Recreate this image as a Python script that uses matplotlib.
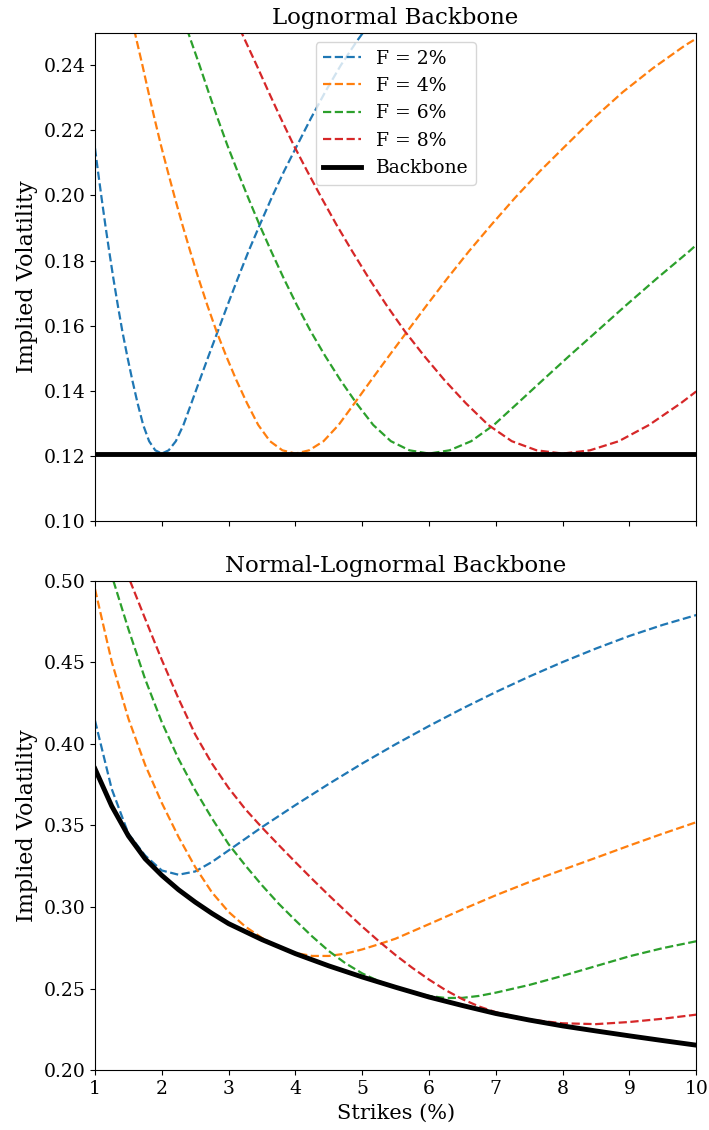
import numpy as np
import matplotlib
matplotlib.use("Agg")
import matplotlib.pyplot as plt

plt.rcParams['font.family'] = 'DejaVu Serif'

# ---- lognormal backbone (top panel) ----
ln_k2 = [1.0, 1.044, 1.098, 1.154, 1.213, 1.275, 1.341, 1.409, 1.482, 1.558, 1.637, 1.721, 1.810,
         1.902, 2.0, 2.103, 2.210, 2.324, 2.443, 2.568, 2.700, 2.838, 2.984, 3.137, 3.297, 3.467,
         3.644, 3.831, 4.028, 4.234, 4.451, 4.679, 4.919, 5.171]
ln_v2 = [0.2145, 0.2075, 0.1993, 0.1910, 0.1828, 0.1745, 0.1663, 0.1583, 0.1507, 0.1433, 0.1362,
         0.1295, 0.1245, 0.1217, 0.1207, 0.1217, 0.1245, 0.1295, 0.1362, 0.1433, 0.1507, 0.1583,
         0.1663, 0.1745, 0.1828, 0.1910, 0.1993, 0.2075, 0.2155, 0.2238, 0.2320, 0.2400, 0.2474,
         0.2545]

ln_k4 = [1.547, 1.626, 1.710, 1.797, 1.889, 1.986, 2.088, 2.195, 2.308, 2.426, 2.550, 2.681, 2.818,
         2.963, 3.115, 3.275, 3.443, 3.619, 3.805, 4.0, 4.205, 4.421, 4.647, 4.886, 5.136, 5.400,
         5.676, 5.967, 6.273, 6.595, 6.933, 7.288, 7.662, 8.055, 8.468, 8.902, 9.358, 9.838, 10.0]
ln_v4 = [0.2545, 0.2474, 0.2400, 0.2320, 0.2238, 0.2155, 0.2075, 0.1993, 0.1910, 0.1828, 0.1745,
         0.1663, 0.1583, 0.1507, 0.1433, 0.1362, 0.1295, 0.1245, 0.1217, 0.1207, 0.1217, 0.1245,
         0.1295, 0.1362, 0.1433, 0.1507, 0.1583, 0.1663, 0.1745, 0.1828, 0.1910, 0.1993, 0.2075,
         0.2155, 0.2238, 0.2318, 0.2392, 0.2462, 0.2482]

ln_k6 = [2.320, 2.439, 2.565, 2.696, 2.834, 2.980, 3.132, 3.293, 3.462, 3.639, 3.826, 4.022, 4.228,
         4.445, 4.673, 4.912, 5.164, 5.429, 5.707, 6.0, 6.308, 6.631, 6.971, 7.328, 7.704, 8.099,
         8.515, 8.951, 9.410, 9.892, 10.0]
ln_v6 = [0.2545, 0.2474, 0.2400, 0.2320, 0.2238, 0.2155, 0.2075, 0.1993, 0.1910, 0.1828, 0.1745,
         0.1663, 0.1583, 0.1507, 0.1433, 0.1362, 0.1295, 0.1245, 0.1217, 0.1207, 0.1217, 0.1245,
         0.1295, 0.1362, 0.1433, 0.1507, 0.1583, 0.1663, 0.1745, 0.1828, 0.1848]

ln_k8 = [3.094, 3.253, 3.420, 3.595, 3.779, 3.973, 4.176, 4.390, 4.615, 4.852, 5.101, 5.363, 5.637,
         5.927, 6.230, 6.550, 6.886, 7.239, 7.610, 8.0, 8.410, 8.841, 9.295, 9.771, 10.0]
ln_v8 = [0.2545, 0.2474, 0.2400, 0.2320, 0.2238, 0.2155, 0.2075, 0.1993, 0.1910, 0.1828, 0.1745,
         0.1663, 0.1583, 0.1507, 0.1433, 0.1362, 0.1295, 0.1245, 0.1217, 0.1207, 0.1217, 0.1245,
         0.1295, 0.1362, 0.1398]

ln_backbone_k = [1.0, 10.0]
ln_backbone_v = [0.1206, 0.1206]

# ---- normal-lognormal backbone (bottom panel) ----
nl_k2 = [1.0, 1.25, 1.5, 1.75, 2.0, 2.25, 2.5, 2.75, 3.0, 3.5, 4.0, 4.5, 5.0, 5.5, 6.0, 6.5, 7.0, 7.5,
         8.0, 8.5, 9.0, 9.5, 10.0]
nl_v2 = [0.4143, 0.3724, 0.3449, 0.3316, 0.3224, 0.3198, 0.3218, 0.3276, 0.3347, 0.3490, 0.3625,
         0.3755, 0.3880, 0.3998, 0.4110, 0.4217, 0.4318, 0.4413, 0.4502, 0.4585, 0.4662, 0.4730,
         0.4790]

nl_k4 = [1.0, 1.25, 1.5, 1.75, 2.0, 2.25, 2.5, 2.75, 3.0, 3.25, 3.5, 3.75, 4.0, 4.25, 4.5, 4.75, 5.0,
         5.25, 5.5, 6.0, 6.5, 7.0, 7.5, 8.0, 8.5, 9.0, 9.5, 10.0]
nl_v4 = [0.4949, 0.4505, 0.4155, 0.3872, 0.3638, 0.3430, 0.3245, 0.3090, 0.2970, 0.2880, 0.2810,
         0.2755, 0.2718, 0.2700, 0.2700, 0.2714, 0.2740, 0.2772, 0.2806, 0.2895, 0.2985, 0.3072,
         0.3153, 0.3228, 0.3302, 0.3377, 0.3450, 0.3520]

nl_k6 = [1.275, 1.5, 1.75, 2.0, 2.25, 2.5, 2.75, 3.0, 3.25, 3.5, 3.75, 4.0, 4.25, 4.5, 4.75, 5.0, 5.25,
         5.5, 5.75, 6.0, 6.25, 6.5, 6.75, 7.0, 7.5, 8.0, 8.5, 9.0, 9.5, 10.0]
nl_v6 = [0.50, 0.4704, 0.4398, 0.4133, 0.3908, 0.3716, 0.3544, 0.3385, 0.3255, 0.3133, 0.3020,
         0.2918, 0.2820, 0.2730, 0.2655, 0.2593, 0.2545, 0.2510, 0.2480, 0.2455, 0.2442, 0.2443,
         0.2455, 0.2475, 0.2522, 0.2578, 0.2638, 0.2698, 0.2748, 0.2790]

nl_k8 = [1.524, 1.75, 2.0, 2.25, 2.5, 2.75, 3.0, 3.25, 3.5, 3.75, 4.0, 4.25, 4.5, 4.75, 5.0, 5.25, 5.5,
         5.75, 6.0, 6.25, 6.5, 6.75, 7.0, 7.5, 8.0, 8.5, 9.0, 9.5, 10.0]
nl_v8 = [0.50, 0.4768, 0.4515, 0.4278, 0.4058, 0.3880, 0.3730, 0.3600, 0.3487, 0.3380, 0.3275,
         0.3172, 0.3072, 0.2975, 0.2880, 0.2790, 0.2705, 0.2627, 0.2555, 0.2490, 0.2435, 0.2390,
         0.2355, 0.2310, 0.2287, 0.2282, 0.2295, 0.2315, 0.2340]

nl_backbone_k = [1.0, 1.25, 1.5, 1.75, 2.0, 2.25, 2.5, 2.75, 3.0, 3.5, 4.0, 4.5, 5.0, 5.5, 6.0, 6.5,
                 7.0, 7.5, 8.0, 8.5, 9.0, 9.5, 10.0]
nl_backbone_v = [0.3847, 0.3619, 0.3436, 0.3296, 0.3194, 0.3106, 0.3030, 0.2961, 0.2898, 0.2800,
                 0.2714, 0.2639, 0.2571, 0.2508, 0.2448, 0.2396, 0.2347, 0.2307, 0.2271, 0.2240,
                 0.2210, 0.2181, 0.2153]

labels = ["F = 2%", "F = 4%", "F = 6%", "F = 8%"]
colors = ["tab:blue", "tab:orange", "tab:green", "tab:red"]

fig = plt.figure(figsize=(7.09, 11.3), dpi=100)
ax1 = fig.add_axes([0.134, 0.539, 0.848, 0.432])
ax2 = fig.add_axes([0.134, 0.053, 0.848, 0.433], sharex=ax1)

top = [(ln_k2, ln_v2), (ln_k4, ln_v4), (ln_k6, ln_v6), (ln_k8, ln_v8)]
for (k, v), lab, c in zip(top, labels, colors):
    ax1.plot(k, v, '--', color=c, lw=1.6, label=lab)
ax1.plot(ln_backbone_k, ln_backbone_v, color='black', lw=3.5, label='Backbone')
ax1.set_ylim(0.10, 0.25)
ax1.set_yticks(np.arange(0.10, 0.245, 0.02))
ax1.set_title("Lognormal Backbone", fontsize=16.5)
ax1.set_ylabel("Implied Volatility", fontsize=16)
ax1.legend(loc='upper center', fontsize=13.5)
ax1.tick_params(labelbottom=False, labelsize=13.5)

bot = [(nl_k2, nl_v2), (nl_k4, nl_v4), (nl_k6, nl_v6), (nl_k8, nl_v8)]
for (k, v), lab, c in zip(bot, labels, colors):
    ax2.plot(k, v, '--', color=c, lw=1.6, label=lab)
ax2.plot(nl_backbone_k, nl_backbone_v, color='black', lw=3.5, label='Backbone')
ax2.set_ylim(0.20, 0.50)
ax2.set_yticks(np.arange(0.20, 0.505, 0.05))
ax2.set_xlim(1, 10)
ax2.set_xticks(range(1, 11))
ax2.set_title("Normal-Lognormal Backbone", fontsize=16.5)
ax2.set_ylabel("Implied Volatility", fontsize=16)
ax2.set_xlabel("Strikes (%)", fontsize=15)
ax2.tick_params(labelsize=13.5)

fig.savefig("out.png", dpi=100)
